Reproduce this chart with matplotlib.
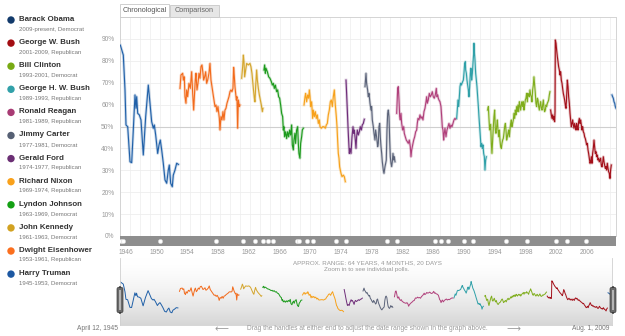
import numpy as np
import matplotlib
matplotlib.use("Agg")
import matplotlib.pyplot as plt
from matplotlib.patches import Rectangle, FancyBboxPatch, Ellipse

plt.rcParams["font.family"] = ["Liberation Sans", "DejaVu Sans"]

# approval ratings (decimal year, percent approve)
truman_t = [1945.30, 1945.69, 1945.91, 1946.04, 1946.26, 1946.56, 1946.78, 1946.99, 1947.21, 1947.34,
            1947.43, 1947.56, 1947.77, 1947.99, 1948.29, 1948.60, 1948.94, 1949.16, 1949.38, 1949.59,
            1949.72, 1949.90, 1950.16, 1950.33, 1950.50, 1950.68, 1950.89, 1951.11, 1951.33, 1951.54,
            1951.67, 1951.85, 1952.06, 1952.19, 1952.41, 1952.63, 1952.85]
truman_v = [87.2, 82.6, 66.7, 50.7, 49.9, 33.9, 33.5, 48.4, 64.4, 58.3,
            63.6, 56.0, 55.3, 53.0, 37.0, 54.5, 68.9, 60.6, 52.2, 49.2,
            50.7, 46.1, 37.7, 41.5, 43.8, 39.3, 33.2, 25.6, 24.1, 30.1,
            32.4, 24.1, 22.5, 27.8, 30.1, 33.2, 32.7]

eisenhower_t = [1953.06, 1953.19, 1953.41, 1953.50, 1953.62, 1953.71, 1953.84, 1953.93, 1954.06, 1954.23,
                1954.40, 1954.58, 1954.71, 1954.84, 1954.93, 1955.05, 1955.14, 1955.27, 1955.40, 1955.53,
                1955.66, 1955.79, 1955.92, 1956.05, 1956.14, 1956.27, 1956.40, 1956.53, 1956.66, 1956.83,
                1956.96, 1957.09, 1957.22, 1957.35, 1957.48, 1957.61, 1957.74, 1957.87, 1958.00, 1958.18,
                1958.26, 1958.39, 1958.52, 1958.65, 1958.78, 1958.91, 1959.04, 1959.17, 1959.30, 1959.43,
                1959.56, 1959.69, 1959.82, 1959.95, 1960.04, 1960.13, 1960.21, 1960.30, 1960.39, 1960.47,
                1960.56, 1960.65, 1960.78, 1960.86]
eisenhower_v = [67.4, 73.5, 74.3, 71.2, 72.7, 63.6, 60.6, 66.7, 63.6, 69.7,
                67.4, 75.0, 65.1, 57.5, 63.6, 71.2, 74.3, 66.7, 69.7, 74.3,
                72.0, 77.3, 78.1, 74.3, 71.2, 72.7, 75.0, 69.7, 71.2, 74.3,
                78.8, 71.2, 68.2, 65.1, 62.1, 59.1, 59.8, 56.8, 59.1, 53.7,
                48.4, 54.5, 53.0, 56.8, 53.0, 57.5, 58.3, 60.6, 62.1, 63.6,
                65.9, 66.7, 65.9, 67.4, 77.0, 72.7, 68.2, 65.1, 62.1, 63.6,
                49.2, 62.1, 59.1, 59.8]

kennedy_t = [1961.08, 1961.21, 1961.30, 1961.38, 1961.47, 1961.60, 1961.73, 1961.95, 1962.16, 1962.29,
             1962.42, 1962.60, 1962.73, 1962.81, 1962.90, 1963.03, 1963.12, 1963.25, 1963.38, 1963.51,
             1963.64, 1963.77, 1963.85]
kennedy_v = [72.0, 77.3, 82.6, 79.6, 72.7, 75.8, 78.8, 78.1, 78.8, 77.3,
             74.3, 67.4, 62.9, 61.3, 68.2, 75.8, 71.2, 67.4, 64.4, 62.1,
             59.8, 56.8, 58.3]

johnson_t = [1963.98, 1964.07, 1964.16, 1964.24, 1964.42, 1964.59, 1964.76, 1964.94, 1965.07, 1965.20,
             1965.33, 1965.46, 1965.63, 1965.76, 1965.89, 1966.02, 1966.15, 1966.28, 1966.41, 1966.50,
             1966.58, 1966.67, 1966.80, 1966.93, 1967.06, 1967.19, 1967.32, 1967.45, 1967.58, 1967.67,
             1967.80, 1967.88, 1968.01, 1968.09, 1968.23, 1968.36, 1968.45, 1968.53, 1968.66, 1968.75,
             1968.88, 1968.97, 1969.10]
johnson_v = [75.8, 78.1, 74.3, 76.6, 75.0, 72.7, 72.0, 70.5, 68.9, 69.7,
             67.4, 68.9, 65.9, 66.7, 63.6, 62.9, 59.8, 56.0, 54.5, 48.4,
             49.9, 45.3, 47.6, 44.5, 47.6, 45.3, 48.4, 46.1, 50.7, 41.6,
             39.3, 43.8, 46.9, 42.3, 48.4, 49.9, 42.3, 37.7, 35.5, 42.3,
             45.3, 48.4, 49.2]

nixon_t = [1969.19, 1969.32, 1969.40, 1969.53, 1969.66, 1969.79, 1969.88, 1969.97, 1970.05, 1970.18,
           1970.31, 1970.40, 1970.53, 1970.66, 1970.79, 1970.92, 1971.05, 1971.18, 1971.27, 1971.44,
           1971.61, 1971.79, 1971.96, 1972.09, 1972.22, 1972.35, 1972.48, 1972.61, 1972.74, 1972.87,
           1973.00, 1973.13, 1973.26, 1973.39, 1973.48, 1973.56, 1973.65, 1973.74, 1973.82, 1973.91,
           1974.00, 1974.13, 1974.30, 1974.43, 1974.56]
nixon_v = [59.8, 63.6, 65.1, 61.3, 64.4, 62.9, 66.7, 63.6, 59.1, 61.3,
           53.7, 57.5, 54.5, 56.8, 53.7, 55.3, 51.4, 53.0, 49.9, 49.2,
           49.9, 49.9, 49.2, 50.7, 51.4, 55.3, 57.5, 61.3, 62.1, 59.1,
           63.6, 66.7, 59.8, 54.5, 49.9, 43.8, 37.7, 35.5, 31.6, 30.1,
           28.6, 27.1, 27.8, 27.1, 24.8]

ford_t = [1974.65, 1974.73, 1974.82, 1974.91, 1974.99, 1975.08, 1975.17, 1975.30, 1975.43, 1975.56,
          1975.64, 1975.73, 1975.86, 1975.95, 1976.03, 1976.12, 1976.25, 1976.38, 1976.51, 1976.64,
          1976.77, 1976.90, 1977.03]
ford_v = [71.2, 65.1, 57.5, 49.9, 43.8, 37.7, 40.0, 37.7, 45.3, 49.9,
          46.9, 48.4, 43.8, 40.0, 45.3, 48.4, 46.1, 47.6, 49.9, 48.4,
          50.7, 51.4, 53.3]

carter_t = [1977.12, 1977.25, 1977.33, 1977.46, 1977.55, 1977.64, 1977.77, 1977.90, 1977.98, 1978.07,
            1978.20, 1978.29, 1978.42, 1978.50, 1978.63, 1978.77, 1978.85, 1978.94, 1979.03, 1979.11,
            1979.20, 1979.29, 1979.37, 1979.50, 1979.59, 1979.72, 1979.81, 1979.89, 1979.98, 1980.07,
            1980.15, 1980.24, 1980.33, 1980.41, 1980.50, 1980.59, 1980.67, 1980.76, 1980.85, 1980.93,
            1981.02]
carter_v = [68.2, 74.3, 69.7, 66.7, 63.6, 65.1, 60.6, 57.5, 59.1, 53.0,
            49.9, 46.9, 43.8, 48.4, 45.3, 40.8, 42.3, 49.9, 51.4, 45.3,
            40.8, 37.7, 33.9, 30.1, 28.6, 31.7, 33.2, 34.7, 48.4, 56.0,
            57.5, 54.5, 43.8, 36.2, 33.2, 31.7, 33.9, 37.7, 34.7, 36.2,
            33.9]

reagan_t = [1981.24, 1981.37, 1981.45, 1981.54, 1981.63, 1981.71, 1981.80, 1981.89, 1982.02, 1982.15,
            1982.23, 1982.36, 1982.49, 1982.62, 1982.75, 1982.88, 1983.01, 1983.10, 1983.19, 1983.32,
            1983.45, 1983.58, 1983.71, 1983.84, 1983.92, 1984.01, 1984.14, 1984.27, 1984.40, 1984.53,
            1984.66, 1984.79, 1984.92, 1985.05, 1985.14, 1985.22, 1985.35, 1985.48, 1985.61, 1985.74,
            1985.87, 1986.00, 1986.13, 1986.26, 1986.39, 1986.48, 1986.57, 1986.65, 1986.74, 1986.87,
            1987.00, 1987.09, 1987.17, 1987.26, 1987.35, 1987.43, 1987.52, 1987.65, 1987.78, 1987.91,
            1988.04, 1988.17, 1988.30, 1988.43, 1988.56, 1988.69, 1988.82, 1988.91]
reagan_v = [56.0, 67.4, 68.2, 62.1, 54.5, 53.0, 56.0, 51.4, 48.4, 49.9,
            46.9, 45.3, 43.8, 43.1, 42.3, 43.8, 40.8, 36.2, 39.3, 41.6,
            43.8, 45.3, 47.6, 48.4, 51.4, 53.7, 53.0, 55.3, 53.7, 54.5,
            53.0, 56.8, 58.3, 61.3, 63.6, 60.6, 62.1, 65.1, 63.6, 64.4,
            65.9, 63.6, 62.9, 64.4, 67.4, 63.6, 64.4, 62.9, 62.1, 61.3,
            59.1, 54.5, 49.9, 48.4, 43.8, 46.9, 49.2, 45.3, 48.4, 49.9,
            51.4, 49.2, 50.7, 49.9, 51.4, 53.0, 53.7, 53.3]

bush41_t = [1989.04, 1989.12, 1989.21, 1989.30, 1989.39, 1989.47, 1989.56, 1989.65, 1989.73, 1989.82,
            1989.91, 1989.99, 1990.08, 1990.17, 1990.21, 1990.30, 1990.38, 1990.47, 1990.56, 1990.64,
            1990.73, 1990.82, 1990.90, 1990.99, 1991.08, 1991.16, 1991.25, 1991.29, 1991.34, 1991.42,
            1991.51, 1991.60, 1991.68, 1991.77, 1991.86, 1991.94, 1992.03, 1992.12, 1992.20, 1992.29,
            1992.38, 1992.46, 1992.55, 1992.64, 1992.72, 1992.81, 1992.90]
bush41_v = [53.7, 57.5, 62.1, 59.1, 63.6, 68.2, 69.7, 68.9, 69.7, 70.5,
            71.2, 74.3, 78.8, 79.6, 75.8, 74.3, 71.2, 68.9, 66.7, 63.6,
            68.2, 74.3, 76.6, 71.2, 74.3, 78.8, 83.4, 88.0, 84.2, 80.4,
            74.3, 71.2, 68.2, 63.6, 59.1, 54.5, 49.9, 45.3, 40.8, 42.3,
            40.0, 41.6, 37.7, 36.2, 30.1, 34.7, 36.2]

clinton_t = [1993.07, 1993.16, 1993.24, 1993.33, 1993.46, 1993.55, 1993.63, 1993.72, 1993.81, 1993.89,
             1993.98, 1994.07, 1994.15, 1994.24, 1994.33, 1994.41, 1994.50, 1994.59, 1994.67, 1994.76,
             1994.85, 1994.93, 1995.02, 1995.11, 1995.19, 1995.28, 1995.37, 1995.45, 1995.54, 1995.63,
             1995.71, 1995.80, 1995.89, 1995.97, 1996.06, 1996.15, 1996.23, 1996.32, 1996.41, 1996.49,
             1996.58, 1996.67, 1996.75, 1996.84, 1996.93, 1997.01, 1997.10, 1997.19, 1997.27, 1997.36,
             1997.45, 1997.53, 1997.62, 1997.71, 1997.79, 1997.88, 1997.97, 1998.05, 1998.14, 1998.23,
             1998.31, 1998.40, 1998.49, 1998.57, 1998.66, 1998.75, 1998.83, 1998.92, 1999.01, 1999.09,
             1999.18, 1999.27, 1999.35, 1999.44, 1999.53, 1999.62, 1999.70, 1999.79, 1999.87, 1999.96,
             2000.05, 2000.14, 2000.22, 2000.31, 2000.40, 2000.48, 2000.57, 2000.66, 2000.74, 2000.83,
             2000.92, 2001.00, 2001.09, 2001.17]
clinton_v = [57.5, 59.1, 53.7, 48.4, 51.0, 42.3, 37.7, 43.8, 49.9, 54.5,
             57.5, 48.4, 46.9, 49.9, 53.0, 48.4, 45.3, 48.4, 43.8, 40.8,
             40.0, 42.3, 43.8, 44.6, 46.9, 49.9, 51.4, 48.4, 43.8, 45.3,
             46.9, 48.4, 45.3, 48.4, 51.4, 53.0, 49.9, 51.4, 53.0, 56.0,
             53.7, 57.5, 55.3, 59.1, 56.8, 59.8, 56.8, 61.3, 59.8, 57.5,
             59.8, 61.3, 59.1, 61.3, 57.5, 59.8, 62.1, 62.9, 65.1, 61.3,
             65.1, 64.4, 63.6, 66.7, 64.4, 63.6, 61.3, 66.7, 68.9, 72.7,
             68.9, 65.1, 60.6, 59.1, 62.9, 62.1, 59.1, 57.5, 59.8, 61.3,
             58.3, 57.5, 59.8, 62.1, 58.3, 56.8, 57.5, 59.8, 59.1, 60.6,
             61.3, 62.1, 64.4, 65.9]

bush43_t = [2001.26, 2001.35, 2001.44, 2001.52, 2001.61, 2001.70, 2001.78, 2001.83, 2001.87, 2001.96,
            2002.04, 2002.13, 2002.22, 2002.30, 2002.39, 2002.48, 2002.56, 2002.65, 2002.74, 2002.82,
            2002.91, 2003.00, 2003.08, 2003.17, 2003.26, 2003.34, 2003.43, 2003.52, 2003.60, 2003.69,
            2003.78, 2003.86, 2003.95, 2004.04, 2004.12, 2004.21, 2004.30, 2004.38, 2004.47, 2004.56,
            2004.64, 2004.73, 2004.82, 2004.90, 2004.99, 2005.08, 2005.16, 2005.25, 2005.34, 2005.42,
            2005.51, 2005.60, 2005.68, 2005.77, 2005.86, 2005.94, 2006.03, 2006.12, 2006.20, 2006.29,
            2006.38, 2006.46, 2006.55, 2006.64, 2006.72, 2006.81, 2006.90, 2006.98, 2007.07, 2007.16,
            2007.24, 2007.33, 2007.42, 2007.50, 2007.59, 2007.68, 2007.76, 2007.85, 2007.94, 2008.02,
            2008.11, 2008.20, 2008.28, 2008.37, 2008.46, 2008.54, 2008.63, 2008.72, 2008.80, 2008.89,
            2008.98, 2009.06, 2009.15]
bush43_v = [57.5, 55.3, 53.7, 55.3, 53.0, 54.5, 52.2, 56.8, 89.5, 88.0,
            84.9, 81.9, 79.6, 77.3, 75.8, 73.5, 75.0, 71.2, 69.7, 67.4,
            65.1, 63.6, 62.1, 59.8, 58.3, 63.6, 71.2, 68.2, 63.6, 60.6,
            56.0, 53.0, 49.9, 51.4, 53.0, 50.7, 49.2, 51.4, 49.9, 48.4,
            51.4, 49.9, 48.4, 52.2, 53.7, 51.4, 53.0, 50.7, 48.4, 49.9,
            47.6, 46.9, 45.3, 44.5, 43.1, 41.6, 42.3, 39.3, 37.7, 35.5,
            33.2, 33.9, 36.2, 33.2, 37.7, 40.0, 43.8, 40.8, 37.7, 38.5,
            36.2, 37.0, 34.7, 35.5, 33.9, 34.7, 35.5, 32.4, 31.6, 33.2,
            36.2, 33.9, 32.4, 30.9, 31.7, 30.1, 33.2, 30.9, 29.4, 28.6,
            26.3, 30.1, 32.4]

obama_t = [2009.24, 2009.32, 2009.41, 2009.50, 2009.59, 2009.67, 2009.76]
obama_v = [64.4, 63.6, 62.9, 61.3, 60.6, 59.1, 58.3]

# legend rows, newest first
names = ["Barack Obama", "George W. Bush", "Bill Clinton", "George H. W. Bush", "Ronald Reagan",
         "Jimmy Carter", "Gerald Ford", "Richard Nixon", "Lyndon Johnson", "John Kennedy",
         "Dwight Eisenhower", "Harry Truman"]
terms = ["2009-present, Democrat", "2001-2009, Republican", "1993-2001, Democrat",
         "1989-1993, Republican", "1981-1989, Republican", "1977-1981, Democrat",
         "1974-1977, Republican", "1969-1974, Republican", "1963-1969, Democrat",
         "1961-1963, Democrat", "1953-1961, Republican", "1945-1953, Democrat"]
dot_colors = ["#123a6b", "#a30d12", "#78aa14", "#32a1a9", "#a83b74", "#566074",
              "#6b2f74", "#f9a11b", "#14a014", "#d2a221", "#fb6f1e", "#1d58a2"]
line_colors = ["#2864a8", "#a3101a", "#7fad1c", "#2fa0a8", "#b0407b", "#5b6379",
               "#6e2c78", "#f7a11a", "#1c9a1c", "#d4a52c", "#f26a1b", "#2060a8"]
series = [(obama_t, obama_v), (bush43_t, bush43_v), (clinton_t, clinton_v), (bush41_t, bush41_v),
          (reagan_t, reagan_v), (carter_t, carter_v), (ford_t, ford_v), (nixon_t, nixon_v),
          (johnson_t, johnson_v), (kennedy_t, kennedy_v), (eisenhower_t, eisenhower_v),
          (truman_t, truman_v)]

# event markers on the timeline strip
event_years = [1945.39, 1945.65, 1950.46, 1957.74, 1961.25, 1962.81, 1963.85, 1964.50, 1965.15,
               1968.27, 1968.53, 1969.57, 1970.35, 1973.34, 1974.64, 1979.98, 1981.28, 1986.22,
               1987.00, 1987.91, 1989.99, 1991.16, 1995.45, 1998.18, 2001.96, 2003.39, 2005.86]

year_ticks = list(range(1946, 2007, 4))
pct_ticks = list(range(0, 100, 10))

T0, T1 = 1945.26, 2009.76
W, H = 625, 336


def box(x0, y0, x1, y1):
    return [x0 / W, 1 - y1 / H, (x1 - x0) / W, (y1 - y0) / H]


def fx(px):
    return px / W


def fy(py):
    return 1 - py / H


fig = plt.figure(figsize=(W / 100, H / 100), dpi=100)
fig.patch.set_facecolor("white")

# ── tabs ──
fig.add_artist(Rectangle((fx(120), fy(17)), 49 / W, 13 / H, transform=fig.transFigure,
                         facecolor="white", edgecolor="#c8c8c8", lw=0.6))
fig.add_artist(Rectangle((fx(170), fy(17)), 49 / W, 12 / H, transform=fig.transFigure,
                         facecolor="#e6e6e6", edgecolor="#c8c8c8", lw=0.6))
fig.text(fx(145), fy(10.5), "Chronological", fontsize=5.2, color="#555555", ha="center", va="center")
fig.text(fx(194.5), fy(10.5), "Comparison", fontsize=5.2, color="#666666", ha="center", va="center")

# ── main chart ──
ax = fig.add_axes(box(120, 17, 616, 236))
ax.set_xlim(T0, T1)
ax.set_ylim(0, 100)
for y in range(10, 100, 10):
    ax.axhline(y, color="#cfcfcf" if y == 50 else "#eeeeee", lw=0.8 if y == 50 else 0.6, zorder=1)
for x in np.arange(T0, T1, 1.3):
    ax.axvline(x, color="#f0f0f0", lw=0.6, zorder=0)
for (t, v), c in zip(series, line_colors):
    ax.plot(t, v, color=c, lw=2.0, alpha=0.25, solid_joinstyle="round", zorder=2)
    ax.plot(t, v, color=c, lw=0.8, solid_joinstyle="round", zorder=3)
ax.set_yticks(pct_ticks)
ax.set_yticklabels([f"{p}%" for p in pct_ticks])
ax.set_xticks([])
ax.tick_params(axis="y", length=0, pad=4, labelsize=4.8, labelcolor="#999999")
for s in ax.spines.values():
    s.set_color("#d4d4d4")
    s.set_linewidth(0.7)
ax.spines["bottom"].set_visible(False)

# ── timeline strip with event dots ──
strip = fig.add_axes(box(120, 236, 616, 246))
strip.set_facecolor("#8e8e8e")
strip.set_xlim(T0, T1)
strip.set_ylim(0, 1)
strip.plot(event_years, [0.5] * len(event_years), "o", ms=3.0, mfc="white", mec="#d8d8d8", mew=0.4)
strip.set_yticks([])
strip.set_xticks(year_ticks)
strip.set_xticklabels([str(y) for y in year_ticks])
strip.tick_params(axis="x", length=0, pad=2.5, labelsize=4.8, labelcolor="#999999")
for s in strip.spines.values():
    s.set_visible(False)

# ── range navigator ──
nav = fig.add_axes(box(120, 258, 612, 325))
shade = 1 - 0.16 * np.linspace(0, 1, 100) ** 1.6
grad = np.repeat(shade[:, None, None], 3, axis=2)
nav.imshow(grad, extent=[T0, T1, -3.1, 137.3], aspect="auto", zorder=0)
for (t, v), c in zip(series, line_colors):
    nav.plot(t, v, color=c, lw=0.7, zorder=2)
nav.set_xlim(T0, T1)
nav.set_ylim(-3.1, 137.3)
nav.set_xticks([])
nav.set_yticks([])
for side, s in nav.spines.items():
    s.set_color("#d0d0d0")
    s.set_linewidth(0.6)
nav.spines["top"].set_visible(False)

for hx in (120, 613):
    fig.add_artist(FancyBboxPatch((fx(hx - 3), fy(313)), 6 / W, 26 / H,
                                  boxstyle="round,pad=0,rounding_size=0.006",
                                  transform=fig.transFigure, facecolor="#6a6a6a",
                                  edgecolor="#3c3c3c", lw=0.5, zorder=5))
    fig.add_artist(Rectangle((fx(hx - 1), fy(310)), 2 / W, 20 / H, transform=fig.transFigure,
                             facecolor="#b5b5b5", edgecolor="none", zorder=6))

fig.text(fx(367), fy(263), "APPROX. RANGE: 64 YEARS, 4 MONTHS, 20 DAYS", fontsize=4.5,
         color="#999999", ha="center", va="center")
fig.text(fx(367), fy(269.5), "Zoom in to see individual polls.", fontsize=4.5,
         color="#999999", ha="center", va="center")
fig.text(fx(118), fy(329), "April 12, 1945", fontsize=4.8, color="#777777", ha="right", va="center")
fig.text(fx(609), fy(329), "Aug. 1, 2009", fontsize=4.8, color="#777777", ha="right", va="center")
fig.text(fx(367), fy(329), "Drag the handles at either end to adjust the date range shown in the graph above.",
         fontsize=4.8, color="#999999", ha="center", va="center")
fig.text(fx(221), fy(329), "\u27f5", fontsize=7, color="#999999", ha="center", va="center",
         family=["DejaVu Sans"])
fig.text(fx(513), fy(329), "\u27f6", fontsize=7, color="#999999", ha="center", va="center",
         family=["DejaVu Sans"])

# ── legend ──
for i, (nm, tm, dc) in enumerate(zip(names, terms, dot_colors)):
    yc = 19.5 + i * 23.1
    fig.add_artist(Ellipse((fx(11), fy(yc + 0.5)), 7.4 / W, 7.4 / H, transform=fig.transFigure,
                           facecolor=dc, edgecolor="none"))
    fig.text(fx(19), fy(yc), nm, fontsize=5.7, fontweight="bold", color="#333333",
             ha="left", va="center")
    fig.text(fx(19), fy(yc + 9.5), tm, fontsize=4.3, color="#777777", ha="left", va="center")

fig.savefig("out.png", dpi=100)
